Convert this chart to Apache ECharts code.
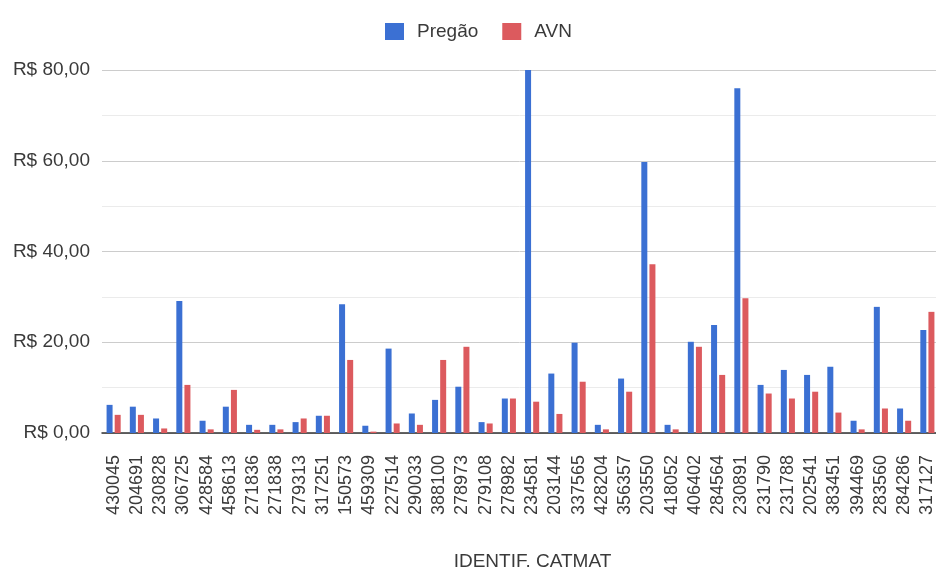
<!DOCTYPE html>
<html><head><meta charset="utf-8">
<script src="https://cdn.jsdelivr.net/npm/echarts@6/dist/echarts.min.js"></script>
<style>html,body{margin:0;padding:0;background:#fff}#c{width:936px;height:572px}</style>
</head><body><div id="c"></div>
<script>
const categories = ['430045','204691','230828','306725','428584','458613','271836','271838','279313','317251','150573','459309','227514','290033','388100','278973','279108','278982','234581','203144','337565','428204','356357','203550','418052','406402','284564','230891','231790','231788','202541','383451','394469','283560','284286','317127'];
const pregao = [6.2,5.8,3.2,29.1,2.7,5.8,1.8,1.8,2.4,3.8,28.4,1.6,18.6,4.3,7.3,10.2,2.4,7.6,80.0,13.1,19.9,1.8,12.0,59.7,1.8,20.1,23.8,76.0,10.6,13.9,12.8,14.6,2.7,27.8,5.4,22.7];
const avn = [4.0,4.0,1.0,10.6,0.8,9.5,0.7,0.8,3.2,3.8,16.1,0.3,2.1,1.8,16.1,19.0,2.1,7.6,6.9,4.2,11.3,0.8,9.1,37.2,0.8,19.0,12.8,29.7,8.7,7.6,9.1,4.5,0.8,5.4,2.7,26.7];
const seriesNames = ['Pregão','AVN'];
const yTicks = [0,20,40,60,80];

const font = 'Arial, "Liberation Sans", sans-serif';
const chart = echarts.init(document.getElementById('c'), null, {renderer:'canvas'});
chart.setOption({
  animation:false,
  color:['#3b70d3','#dc5a5e'],
  legend:{
    top:17, left:380, itemWidth:19, itemHeight:17, itemGap:24, icon:'rect',
    textStyle:{fontFamily:font, fontSize:19, color:'#3a3a3a', padding:[0,0,0,8]},
    data:seriesNames
  },
  grid:{left:102, top:70, width:837, height:363, containLabel:false, outerBoundsMode:'none'},
  xAxis:{
    type:'category', data:categories,
    name:'IDENTIF. CATMAT', nameLocation:'middle', nameGap:119,
    nameTextStyle:{fontFamily:font, fontSize:19, color:'#3a3a3a', padding:[0,0,0,24]},
    axisLine:{lineStyle:{color:'#333', width:1.5}},
    axisTick:{alignWithLabel:true, length:8, lineStyle:{color:'#222', width:1.5}},
    axisLabel:{rotate:90, interval:0, margin:22, fontFamily:font, fontSize:18, color:'#3a3a3a'}
  },
  yAxis:{
    type:'value', min:yTicks[0], max:yTicks[yTicks.length-1], interval:20,
    axisLine:{show:false}, axisTick:{show:false},
    axisLabel:{margin:12, fontFamily:font, fontSize:19, color:'#3a3a3a',
      formatter:v=>'R$ '+v.toFixed(2).replace('.',',')},
    splitLine:{lineStyle:{color:'#cccccc'}},
    minorTick:{show:false, splitNumber:2},
    minorSplitLine:{show:true, lineStyle:{color:'#ebebeb'}}
  },
  series:[
    {name:seriesNames[0], type:'bar', data:pregao, barWidth:6, barGap:'35%'},
    {name:seriesNames[1], type:'bar', data:avn, barWidth:6, barGap:'35%'}
  ]
});
</script></body></html>
